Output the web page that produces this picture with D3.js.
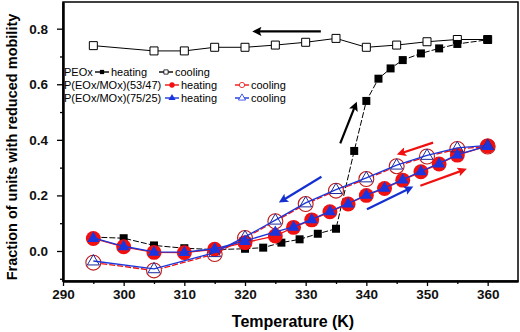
<!DOCTYPE html>
<html>
<head>
<meta charset="utf-8">
<script src="https://cdn.jsdelivr.net/npm/d3@7"></script>
<style>
  body { margin: 0; background: #fff; }
  svg { display: block; font-family: "Liberation Sans", Arial, sans-serif; }
</style>
</head>
<body>
<svg id="chart" width="520" height="332"></svg>
<script>
// PEOx
const peoxHeatT = [295, 300, 305, 310, 315, 320, 323, 326, 329, 332, 335, 338, 340, 342, 344, 346, 349, 352, 355, 360];
const peoxHeatV = [0.05, 0.046, 0.02, 0.01, 0.005, 0.008, 0.012, 0.03, 0.042, 0.062, 0.08, 0.36, 0.54, 0.62, 0.657, 0.687, 0.711, 0.729, 0.745, 0.76];
const peoxCoolT = [295, 305, 310, 315, 320, 325, 330, 335, 340, 345, 350, 355, 360];
const peoxCoolV = [0.739, 0.72, 0.72, 0.733, 0.733, 0.741, 0.751, 0.765, 0.733, 0.741, 0.753, 0.761, 0.761];

// P(EOx/MOx) copolymers
const copoHeatT = [295, 300, 305, 310, 315, 320, 325, 328, 331, 334, 337, 340, 343, 346, 349, 352, 355, 360];
const c5347HeatV = [0.045, 0.015, -0.005, -0.006, 0.006, 0.03, 0.054, 0.085, 0.112, 0.141, 0.169, 0.2, 0.225, 0.255, 0.285, 0.313, 0.345, 0.378];
const c7525HeatV = [0.047, 0.017, -0.003, -0.004, 0.008, 0.036, 0.069, 0.087, 0.114, 0.143, 0.171, 0.202, 0.227, 0.257, 0.287, 0.315, 0.347, 0.378];
const copoCoolT = [295, 305, 315, 320, 325, 330, 335, 340, 345, 350, 355, 360];
const c5347CoolV = [-0.042, -0.07, -0.011, 0.047, 0.107, 0.169, 0.217, 0.259, 0.305, 0.34, 0.367, 0.376];
const c7525CoolV = [-0.036, -0.064, -0.006, 0.051, 0.111, 0.173, 0.221, 0.263, 0.309, 0.344, 0.371, 0.38];

// annotation arrows: [t1, v1, t2, v2, colour] (head at t2, v2)
const arrows = [
  [332.5, 0.79, 321.8, 0.79, "#000"],
  [335.7, 0.387, 338.2, 0.525, "#000"],
  [332.6, 0.267, 326.1, 0.181, "#1530d0"],
  [340.1, 0.15, 347.2, 0.226, "#1530d0"],
  [348.9, 0.235, 356.0, 0.291, "#f01010"],
  [351.0, 0.39, 345.6, 0.351, "#f01010"]
];

const xTicks = [290, 300, 310, 320, 330, 340, 350, 360];
const yTicks = [0.0, 0.2, 0.4, 0.6, 0.8];

const red = "#f01010";
const blue = "#1a35dd";
const darkBlue = "#1a2a9a";

const svg = d3.select("#chart");
const plotL = 63, plotR = 518, plotT = 2, plotB = 281;

const x = d3.scaleLinear().domain([290, 365]).range([plotL, plotR]);
const y = d3.scaleLinear().domain([-0.108, 0.896]).range([plotB, plotT]);

// frame
svg.append("rect")
  .attr("x", plotL).attr("y", plotT)
  .attr("width", plotR - plotL).attr("height", plotB - plotT)
  .attr("fill", "none").attr("stroke", "#000").attr("stroke-width", 1.5);

// axes
svg.append("g").attr("transform", `translate(0,${plotB})`)
  .call(d3.axisBottom(x).tickValues(xTicks).tickSize(5).tickSizeOuter(0).tickPadding(3));
svg.append("g").attr("transform", `translate(0,${plotB})`)
  .call(d3.axisBottom(x).tickValues(d3.range(295, 365, 10)).tickSize(3).tickSizeOuter(0).tickFormat(""));
svg.append("g").attr("transform", `translate(${plotL},0)`)
  .call(d3.axisLeft(y).tickValues(yTicks).tickSize(6).tickSizeOuter(0).tickPadding(9).tickFormat(d3.format(".1f")));
svg.append("g").attr("transform", `translate(${plotL},0)`)
  .call(d3.axisLeft(y).tickValues([-0.1, 0.1, 0.3, 0.5, 0.7]).tickSize(3).tickSizeOuter(0).tickFormat(""));

svg.selectAll(".domain").attr("stroke-width", 2);
svg.selectAll(".tick line").attr("stroke-width", 1.3);
svg.selectAll(".tick text")
  .attr("font-size", 13.5).attr("font-weight", "bold")
  .attr("font-family", "'Liberation Sans', Arial, sans-serif").attr("fill", "#111");

// axis titles
svg.append("text")
  .attr("x", 293).attr("y", 327)
  .attr("text-anchor", "middle")
  .attr("font-size", 16).attr("font-weight", "bold")
  .text("Temperature (K)");
svg.append("text")
  .attr("transform", "translate(17,147) rotate(-90)")
  .attr("text-anchor", "middle")
  .attr("font-size", 14.5).attr("font-weight", "bold")
  .text("Fraction of units with reduced mobility");

const line = d3.line().x(d => x(d[0])).y(d => y(d[1]));
const zipped = (ts, vs) => ts.map((t, i) => [t, vs[i]]);

function drawLine(data, color, width, dash) {
  svg.append("path").datum(data)
    .attr("d", line)
    .attr("fill", "none")
    .attr("stroke", color)
    .attr("stroke-width", width)
    .attr("stroke-dasharray", dash || null);
}

const sq = d3.symbol().type(d3.symbolSquare).size(64);
const tri = d3.symbol().type(d3.symbolTriangle).size(62);
const cir = d3.symbol().type(d3.symbolCircle).size(175);

function drawMarks(data, kind) {
  const g = svg.append("g");
  const sel = g.selectAll("path").data(data).join("path")
    .attr("transform", d => `translate(${x(d[0])},${y(d[1])})`);
  if (kind === "sqFill") sel.attr("d", sq).attr("fill", "#000");
  if (kind === "sqOpen") sel.attr("d", sq).attr("fill", "#fff").attr("stroke", "#000").attr("stroke-width", 1);
  if (kind === "cirFill") sel.attr("d", cir).attr("fill", red);
  if (kind === "cirOpen") sel.attr("d", cir).attr("fill", "#fff").attr("stroke", "#c01818").attr("stroke-width", 1.1);
  if (kind === "triFill") sel.attr("d", tri).attr("fill", blue).attr("transform", d => `translate(${x(d[0])},${y(d[1]) + 0.5})`);
  if (kind === "triOpen") sel.attr("d", tri).attr("fill", "none").attr("stroke", darkBlue).attr("stroke-width", 1).attr("transform", d => `translate(${x(d[0])},${y(d[1]) + 0.5})`);
}

// PEOx
const peoxHeat = zipped(peoxHeatT, peoxHeatV);
const peoxCool = zipped(peoxCoolT, peoxCoolV);
drawLine(peoxCool, "#000", 1);
drawLine(peoxHeat, "#000", 1, "6,2");
drawMarks(peoxCool, "sqOpen");
drawMarks(peoxHeat, "sqFill");

// 53/47 (red) then 75/25 (blue)
const rHeat = zipped(copoHeatT, c5347HeatV);
const rCool = zipped(copoCoolT, c5347CoolV);
const bHeat = zipped(copoHeatT, c7525HeatV);
const bCool = zipped(copoCoolT, c7525CoolV);
drawLine(rCool, red, 1.3, "6,2");
drawLine(rHeat, red, 1.3);
drawMarks(rCool, "cirOpen");
drawMarks(rHeat, "cirFill");
drawLine(bCool, blue, 1.3);
drawLine(bHeat, blue, 1.3);
drawMarks(bCool, "triOpen");
drawMarks(bHeat, "triFill");

// arrows
const defs = svg.append("defs");
arrows.forEach((a, i) => {
  defs.append("marker")
    .attr("id", "ah" + i)
    .attr("viewBox", "0 0 10 10").attr("refX", 6).attr("refY", 5)
    .attr("markerWidth", 5.5).attr("markerHeight", 4.2).attr("markerUnits", "strokeWidth")
    .attr("orient", "auto")
    .append("path").attr("d", "M0,0L10,5L0,10L2,5Z").attr("fill", a[4]);
  svg.append("line")
    .attr("x1", x(a[0])).attr("y1", y(a[1]))
    .attr("x2", x(a[2])).attr("y2", y(a[3]))
    .attr("stroke", a[4]).attr("stroke-width", 2.2)
    .attr("marker-end", `url(#ah${i})`);
});

// legend
const legendRows = [
  { label: "PEOx", y: 72, items: [
    { kind: "sqFill", color: "#000", cx: 102, tx: 111, text: "heating" },
    { kind: "sqOpen", color: "#000", cx: 166, tx: 175, text: "cooling" } ] },
  { label: "P(EOx/MOx)(53/47)", y: 85, items: [
    { kind: "cirFill", color: red, cx: 172, tx: 181, text: "heating" },
    { kind: "cirOpen", color: red, cx: 242, tx: 251, text: "cooling" } ] },
  { label: "P(EOx/MOx)(75/25)", y: 98, items: [
    { kind: "triFill", color: blue, cx: 172, tx: 181, text: "heating" },
    { kind: "triOpen", color: blue, cx: 242, tx: 251, text: "cooling" } ] }
];
const lg = svg.append("g").attr("font-size", 11).attr("fill", "#000");
legendRows.forEach(r => {
  lg.append("text").attr("x", 64).attr("y", r.y + 4).text(r.label);
  r.items.forEach(it => {
    lg.append("line")
      .attr("x1", it.cx - 7).attr("x2", it.cx + 7)
      .attr("y1", r.y).attr("y2", r.y)
      .attr("stroke", it.color).attr("stroke-width", 1.4);
    const p = lg.append("path").attr("transform", `translate(${it.cx},${r.y})`);
    if (it.kind === "sqFill") p.attr("d", d3.symbol().type(d3.symbolSquare).size(18)).attr("fill", "#000");
    if (it.kind === "sqOpen") p.attr("d", d3.symbol().type(d3.symbolSquare).size(18)).attr("fill", "#fff").attr("stroke", "#000").attr("stroke-width", 0.8);
    if (it.kind === "cirFill") p.attr("d", d3.symbol().type(d3.symbolCircle).size(22)).attr("fill", red);
    if (it.kind === "cirOpen") p.attr("d", d3.symbol().type(d3.symbolCircle).size(22)).attr("fill", "#fff").attr("stroke", red).attr("stroke-width", 0.8);
    if (it.kind === "triFill") p.attr("d", d3.symbol().type(d3.symbolTriangle).size(22)).attr("fill", blue);
    if (it.kind === "triOpen") p.attr("d", d3.symbol().type(d3.symbolTriangle).size(22)).attr("fill", "#fff").attr("stroke", blue).attr("stroke-width", 0.8);
    lg.append("text").attr("x", it.tx).attr("y", r.y + 4).text(it.text);
  });
});
</script>
</body>
</html>
